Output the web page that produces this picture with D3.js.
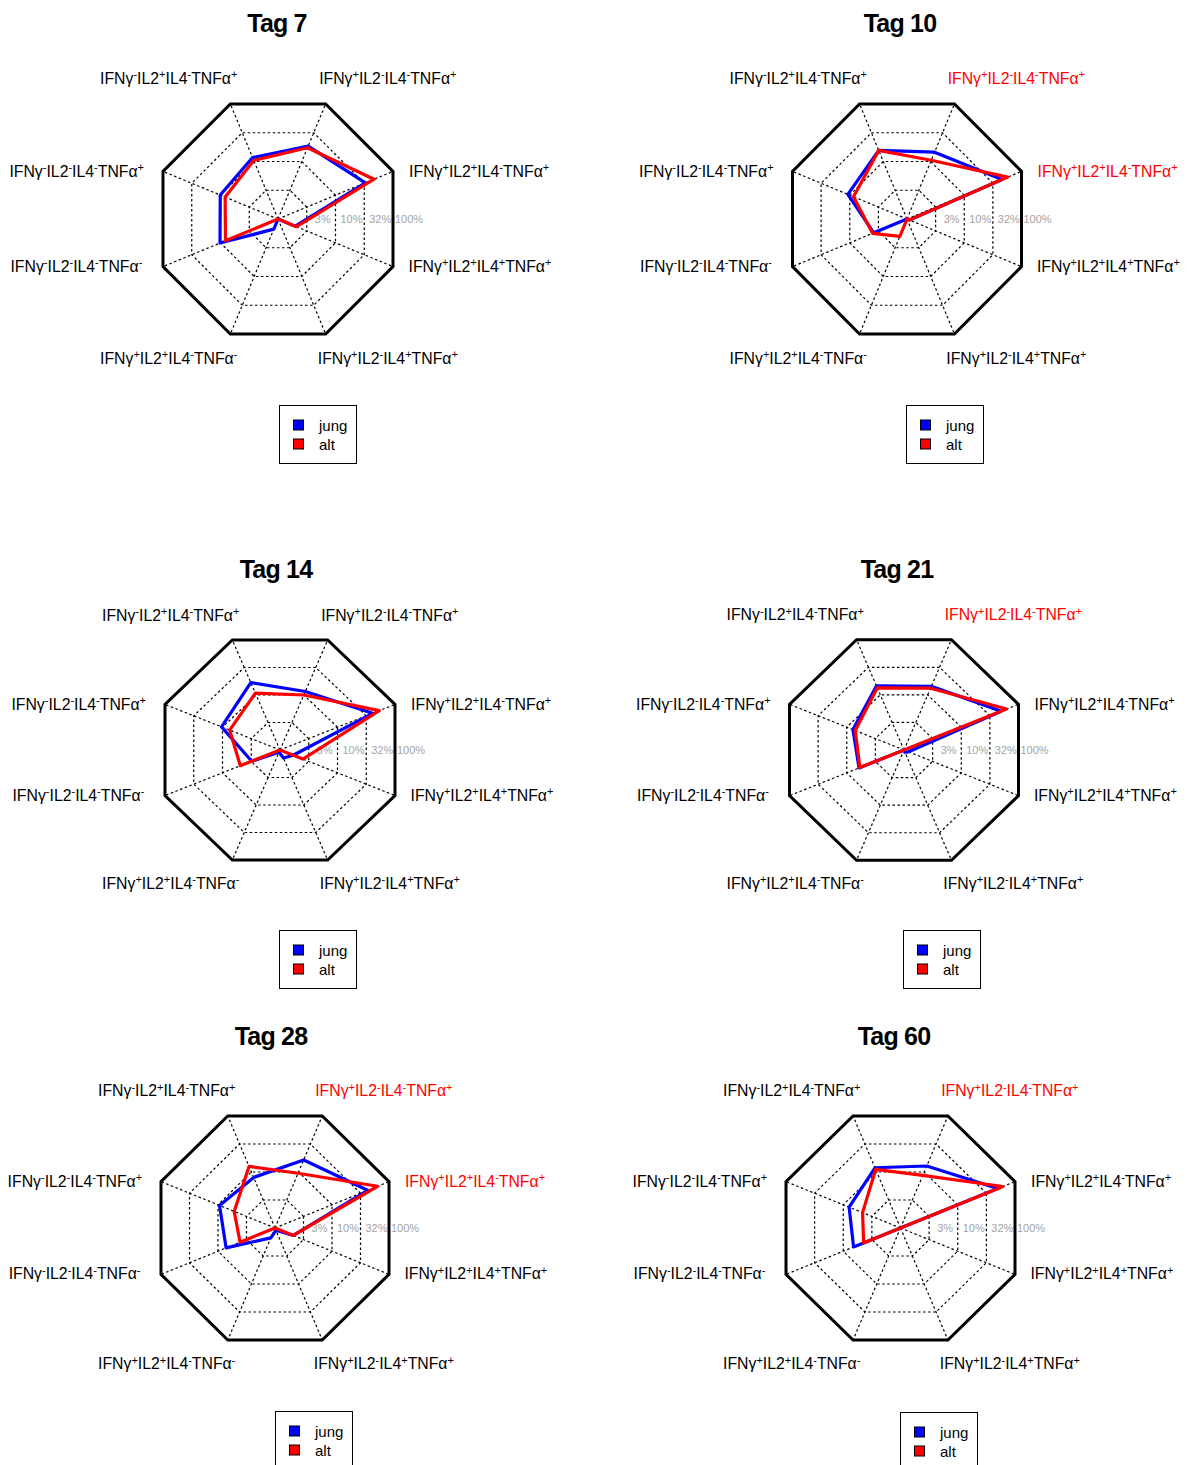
<!DOCTYPE html>
<html>
<head>
<meta charset="utf-8">
<script src="https://cdn.jsdelivr.net/npm/d3@7"></script>
<style>
  html, body { margin: 0; padding: 0; background: #fff; }
  svg { display: block; font-family: "Liberation Sans", Arial, Helvetica, sans-serif; }
</style>
</head>
<body>
<svg id="chart" width="1187" height="1465"></svg>
<script>
// Days after vaccination, one radar per day
const days = ["Tag 7", "Tag 10", "Tag 14", "Tag 21", "Tag 28", "Tag 60"];

// Cytokine profiles, one per spoke (counter-clockwise from the right-upper spoke)
const categories = [
  "IFNγ+IL2+IL4-TNFα+",
  "IFNγ+IL2-IL4-TNFα+",
  "IFNγ-IL2+IL4-TNFα+",
  "IFNγ-IL2-IL4-TNFα+",
  "IFNγ-IL2-IL4-TNFα-",
  "IFNγ+IL2+IL4-TNFα-",
  "IFNγ+IL2-IL4+TNFα+",
  "IFNγ+IL2+IL4+TNFα+"
];

// Share of responding cells (%) per profile, young donors
const jung = [
  [33.1, 18.5, 11.7, 10.1, 10.2, 1.5, 1.0, 2.0],
  [45.7, 14.5, 15.6, 10.8, 3.8, 1.0, 1.0, 1.1],
  [40.7, 11.6, 16.8, 10.4, 3.1, 1.1, 1.4, 1.7],
  [49.7, 14.3, 14.5, 7.8, 6.1, 1.0, 1.1, 1.2],
  [42.3, 16.4, 8.0, 9.4, 7.2, 1.5, 1.1, 2.1],
  [50.1, 12.8, 11.9, 7.9, 6.6, 1.0, 1.0, 1.0]
];

// Share of responding cells (%) per profile, elderly donors
const alt = [
  [46.8, 17.3, 10.4, 8.3, 8.2, 1.0, 1.0, 2.1],
  [57.5, 10.5, 15.6, 8.6, 4.0, 2.0, 1.0, 1.1],
  [53.2, 10.0, 10.8, 7.5, 4.9, 1.0, 1.0, 2.5],
  [61.9, 13.2, 13.4, 7.1, 5.9, 1.0, 1.0, 1.0],
  [63.1, 9.5, 12.6, 5.2, 4.1, 1.0, 1.0, 2.1],
  [61.7, 8.7, 11.1, 4.6, 4.4, 1.0, 1.0, 1.0]
];

// Profiles with a significant difference between groups (spoke indices)
const significant = [[], [0, 1], [], [1], [0, 1], [1]];

// Radial (log) scale ticks
const tickValues = [3.1623, 10, 31.623, 100];
const tickLabels = ["3%", "10%", "32%", "100%"];

const seriesNames = ["jung", "alt"];
const seriesColors = ["#0000ff", "#ff0000"];

// Panel geometry: centre, apothem of the outer octagon (x / y), title and legend placement
const panelCx   = [278, 907, 280, 904, 275, 900.5];
const panelCy   = [219, 219, 750, 750, 1228, 1228];
const panelAx   = [115, 114.5, 115, 114.5, 114, 114.5];
const panelAy   = [115, 115, 110, 110.3, 112, 112];
const titleX    = [277, 900, 276, 897, 271, 894];
const titleY    = [23, 23, 569, 569, 1036, 1036];
const legendX   = [279, 906, 279, 903, 275, 900];
const legendY   = [405, 405, 930, 930, 1411, 1412];

const svg = d3.select("#chart");
svg.append("rect").attr("width", 1187).attr("height", 1465).attr("fill", "#fff");

const rScale = d3.scaleLog().domain([1, 100]).range([0, 1]).clamp(true);
const angles = d3.range(8).map(k => (22.5 + 45 * k) * Math.PI / 180);
const vtx = 1 / Math.cos(22.5 * Math.PI / 180);

// label anchor per spoke: [dx factor, dy factor, text-anchor]
const labelPos = [
  [1.14, -0.417, "start"],
  [0.955, -1.225, "middle"],
  [-0.95, -1.225, "middle"],
  [-1.165, -0.417, "end"],
  [-1.18, 0.41, "end"],
  [-0.95, 1.21, "middle"],
  [0.955, 1.21, "middle"],
  [1.135, 0.41, "start"]
];

function addProfileLabel(sel, label) {
  const parts = label.split(/([+-])/).filter(s => s.length);
  let sup = false;
  parts.forEach(p => {
    if (p === "+" || p === "-") {
      sel.append("tspan").attr("dy", -5.5).attr("font-size", 11).text(p);
      sup = true;
    } else {
      sel.append("tspan").attr("dy", sup ? 5.5 : 0).text(p);
      sup = false;
    }
  });
}

days.forEach((day, i) => {
  const cx = panelCx[i], cy = panelCy[i];
  const Rx = panelAx[i] * vtx, Ry = panelAy[i] * vtx;
  const g = svg.append("g");

  const pt = (f, k) => [cx + f * Rx * Math.cos(angles[k]), cy - f * Ry * Math.sin(angles[k])];
  const ringPath = d3.line().curve(d3.curveLinearClosed);

  // spokes
  angles.forEach((a, k) => {
    const p = pt(1, k);
    g.append("line")
      .attr("x1", cx).attr("y1", cy).attr("x2", p[0]).attr("y2", p[1])
      .attr("stroke", "#000").attr("stroke-width", 1.2).attr("stroke-dasharray", "2.5,2.5");
  });

  // rings
  tickValues.forEach((v, j) => {
    const f = rScale(v);
    const outer = j === tickValues.length - 1;
    g.append("path")
      .attr("d", ringPath(d3.range(8).map(k => pt(f, k))))
      .attr("fill", "none")
      .attr("stroke", "#000")
      .attr("stroke-width", outer ? 3 : 1.2)
      .attr("stroke-dasharray", outer ? null : "2.5,2.5")
      .attr("stroke-linejoin", "miter");
  });

  // ring labels
  tickValues.forEach((v, j) => {
    g.append("text")
      .attr("x", cx + rScale(v) * panelAx[i] + 16)
      .attr("y", cy)
      .attr("dominant-baseline", "central")
      .attr("text-anchor", "middle")
      .attr("font-size", 11)
      .attr("fill", "#a3a3a3")
      .text(tickLabels[j]);
  });

  // series polygons
  [jung[i], alt[i]].forEach((vals, s) => {
    g.append("path")
      .attr("d", ringPath(vals.map((v, k) => pt(rScale(v), k))))
      .attr("fill", "none")
      .attr("stroke", seriesColors[s])
      .attr("stroke-width", 3.2)
      .attr("stroke-linejoin", "round");
  });

  // spoke labels
  categories.forEach((c, k) => {
    const lp = labelPos[k];
    const t = g.append("text")
      .attr("x", cx + lp[0] * panelAx[i])
      .attr("y", cy + lp[1] * panelAy[i] + 5.5)
      .attr("text-anchor", lp[2])
      .attr("font-size", 15.8)
      .attr("fill", significant[i].includes(k) ? "#ff0000" : "#000");
    addProfileLabel(t, c);
  });

  // title
  g.append("text")
    .attr("x", titleX[i]).attr("y", titleY[i])
    .attr("text-anchor", "middle")
    .attr("dominant-baseline", "central")
    .attr("font-size", 25)
    .attr("font-weight", "bold")
    .attr("letter-spacing", -0.8)
    .text(day);

  // legend
  const lg = g.append("g").attr("transform", `translate(${legendX[i]},${legendY[i]})`);
  lg.append("rect").attr("x", 0.5).attr("y", 0.5).attr("width", 77).attr("height", 58)
    .attr("fill", "#fff").attr("stroke", "#000").attr("stroke-width", 1);
  seriesNames.forEach((n, s) => {
    lg.append("rect")
      .attr("x", 14.5).attr("y", 15 + s * 19)
      .attr("width", 10).attr("height", 10)
      .attr("fill", seriesColors[s]).attr("stroke", "#000").attr("stroke-width", 1);
    lg.append("text")
      .attr("x", 40).attr("y", 20 + s * 19)
      .attr("dominant-baseline", "central")
      .attr("font-size", 15)
      .text(n);
  });
});
</script>
</body>
</html>
